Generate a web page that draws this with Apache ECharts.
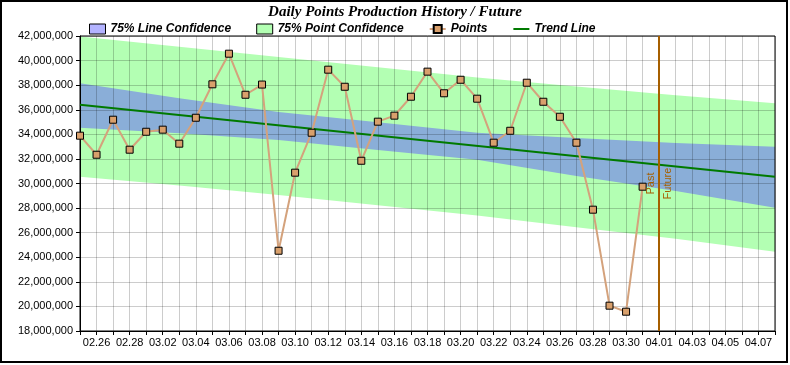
<!DOCTYPE html>
<html><head><meta charset="utf-8">
<script src="https://cdn.jsdelivr.net/npm/echarts@6/dist/echarts.min.js"></script>
<style>html,body{margin:0;padding:0;background:#fff}#c{width:790px;height:365px}</style>
</head><body><div id="c"></div>
<script>
// Categories (days), 02.25 .. 04.08
const dates = ['02.25','02.26','02.27','02.28','03.01','03.02','03.03','03.04','03.05','03.06',
  '03.07','03.08','03.09','03.10','03.11','03.12','03.13','03.14','03.15','03.16',
  '03.17','03.18','03.19','03.20','03.21','03.22','03.23','03.24','03.25','03.26',
  '03.27','03.28','03.29','03.30','03.31','04.01','04.02','04.03','04.04','04.05',
  '04.06','04.07','04.08'];

// Daily points (02.25 .. 03.31)
const pointValues = [33890000, 32340000, 35190000, 32750000, 34210000, 34380000, 33240000, 35350000, 38070000, 40560000,
  37220000, 38050000, 24530000, 30880000, 34130000, 39260000, 37870000, 31850000, 35030000, 35520000,
  37060000, 39100000, 37340000, 38440000, 36900000, 33320000, 34290000, 38200000, 36650000, 35430000,
  33320000, 27870000, 20060000, 19570000, 29740000];

// Trend line end points (day index, value)
const trendDays = [0, 42];
const trendValues = [36400000, 30550000];

// Confidence bands read at these day indices
const bandDays = [0, 6, 12, 18, 24, 30, 36, 42];
const pointConfUpper = [41960000, 41130000, 40300000, 39460000, 38630000, 37900000, 37170000, 36520000];
const pointConfLower = [30550000, 29830000, 29060000, 28230000, 27400000, 26450000, 25500000, 24450000];
const lineConfUpper  = [38150000, 36930000, 35820000, 34980000, 34130000, 33710000, 33290000, 32990000];
const lineConfLower  = [34540000, 34080000, 33530000, 32730000, 31940000, 30620000, 29380000, 28030000];

// Past / Future divider
const dividerDate = '04.01';

// Y axis ticks
const yMin = 18000000, yMax = 42000000, yStep = 2000000;

function bandSeries(name, lower, upper, fill) {
  return {
    name: name, type: 'custom', z: 1, clip: true,
    data: bandDays.map((d, k) => [d, lower[k], upper[k]]),
    encode: { x: 0, y: [1, 2] },
    renderItem: function (params, api) {
      if (params.dataIndex !== 0) return null;
      const pts = [];
      for (let k = 0; k < bandDays.length; k++) pts.push(api.coord([bandDays[k], upper[k]]));
      for (let k = bandDays.length - 1; k >= 0; k--) pts.push(api.coord([bandDays[k], lower[k]]));
      return { type: 'polygon', shape: { points: pts }, style: { fill: fill, stroke: null } };
    }
  };
}

const chart = echarts.init(document.getElementById('c'), null, { renderer: 'canvas' });
const font = 'Liberation Sans, Arial, sans-serif';
chart.setOption({
  animation: false,
  backgroundColor: '#fff',
  title: {
    text: 'Daily Points Production History / Future', left: 'center', top: 0,
    textStyle: { fontFamily: 'Liberation Serif, Times New Roman, serif', fontSize: 15, fontWeight: 'bold', fontStyle: 'italic', color: '#000' }
  },
  legend: {
    left: 84, top: 18, itemWidth: 16, itemHeight: 10, itemGap: 25,
    textStyle: { fontFamily: font, fontSize: 12, fontWeight: 'bold', fontStyle: 'italic', color: '#000' },
    data: [
      { name: '75% Line Confidence', icon: 'rect', itemStyle: { color: '#b3b3ff', borderColor: '#000', borderWidth: 1 } },
      { name: '75% Point Confidence', icon: 'rect', itemStyle: { color: '#b3ffb3', borderColor: '#000', borderWidth: 1 } },
      { name: 'Points' },
      { name: 'Trend Line', itemStyle: { opacity: 0 } }
    ]
  },
  graphic: [{ type: 'rect', shape: { x: 1, y: 1, width: 786, height: 361 }, style: { fill: null, stroke: '#000', lineWidth: 2 }, z: 100 }],
  grid: { left: 80, right: 15, top: 36, bottom: 34, show: true, borderColor: '#000', borderWidth: 1, z: 2 },
  xAxis: {
    type: 'category', data: dates, boundaryGap: false, z: 2,
    axisLine: { lineStyle: { color: '#000', width: 1 } },
    axisTick: { show: true, interval: 0, length: 4, lineStyle: { color: '#000' } },
    axisLabel: { interval: (i) => i % 2 === 1, color: '#000', fontFamily: font, fontSize: 11, margin: 6 },
    splitLine: { show: true, interval: 0, lineStyle: { color: 'rgba(0,0,0,0.2)', width: 1 } }
  },
  yAxis: {
    type: 'value', min: yMin, max: yMax, interval: yStep, z: 2,
    axisLine: { show: true, lineStyle: { color: '#000', width: 1 } },
    axisTick: { show: true, length: 4, lineStyle: { color: '#000' } },
    axisLabel: { color: '#000', fontFamily: font, fontSize: 11, margin: 7, formatter: (v) => v.toLocaleString('en-US') },
    splitLine: { show: true, lineStyle: { color: 'rgba(0,0,0,0.2)', width: 1 } }
  },
  series: [
    bandSeries('75% Point Confidence', pointConfLower, pointConfUpper, '#b3ffb3'),
    bandSeries('75% Line Confidence', lineConfLower, lineConfUpper, '#8aaed8'),
    {
      name: 'Trend Line', type: 'line', z: 3, symbol: 'none',
      data: trendDays.map((d, k) => [d, trendValues[k]]),
      lineStyle: { color: '#007a00', width: 2 }, itemStyle: { color: '#007a00' }
    },
    {
      name: 'Points', type: 'line', z: 4, symbol: 'rect', symbolSize: 7,
      data: pointValues,
      lineStyle: { color: '#d4a27c', width: 2 },
      itemStyle: { color: '#d9a06c', borderColor: '#000', borderWidth: 1 },
      markLine: {
        silent: true, symbol: 'none', animation: false,
        lineStyle: { color: '#a65f00', width: 2, type: 'solid' },
        label: { color: '#a65f00', fontFamily: font, fontSize: 11, distance: 3 },
        data: [
          { xAxis: dividerDate, label: { formatter: 'Past', position: 'insideMiddleTop' } },
          { xAxis: dividerDate, label: { formatter: 'Future', position: 'insideMiddleBottom' } }
        ]
      }
    }
  ]
});
</script></body></html>
